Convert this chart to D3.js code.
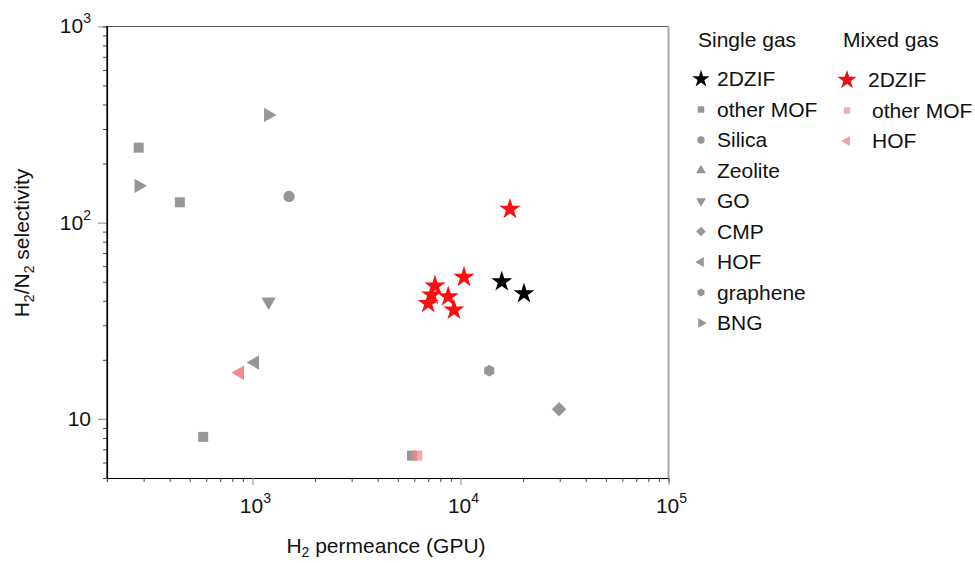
<!DOCTYPE html>
<html>
<head>
<meta charset="utf-8">
<script src="https://cdn.jsdelivr.net/npm/d3@7"></script>
<style>
  html, body { margin: 0; padding: 0; background: #fff; }
  svg { display: block; font-family: "Liberation Sans", Arial, sans-serif; }
</style>
</head>
<body>
<svg id="chart" width="975" height="563"></svg>
<script>
// ---------- data (H2 permeance in GPU, H2/N2 selectivity) ----------
const singleZIF      = [[15800, 50], [20200, 43.5]];
const singleMOF      = [[284, 241], [448, 127], [580, 8.1], [5850, 6.5]];
const singleSilica   = [[1500, 136]];
const singleZeolite  = [];
const singleGO       = [[1196, 39.6]];
const singleCMP      = [[29800, 11.2]];
const singleHOF      = [[1028, 19.4]];
const singleGraphene = [[13750, 17.6]];
const singleBNG      = [[284, 154], [1191, 354]];

const mixedZIF = [[17300, 117], [10400, 52.7], [7540, 47.6], [7270, 42.8],
                  [7000, 38.8], [8730, 42.0], [9310, 35.9]];
const mixedMOF = [[6200, 6.5]];
const mixedHOF = [[870, 17.2]];

const xTickMajors = [1e3, 1e4, 1e5];
const xTickLabels = [["10", "3"], ["10", "4"], ["10", "5"]];
const yTickMajors = [10, 100, 1000];
const yTickLabels = [["10", ""], ["10", "2"], ["10", "3"]];

const singleLegend = ["2DZIF", "other MOF", "Silica", "Zeolite", "GO", "CMP", "HOF", "graphene", "BNG"];
const mixedLegend  = ["2DZIF", "other MOF", "HOF"];

// ---------- setup ----------
const svg = d3.select("#chart");
const GRAY = "#969696", PINK = "#f4898d", RED = "#fb0f0f", BLACK = "#000";
const FS = 21;

const x = d3.scaleLog().domain([200, 1e5]).range([107, 668.5]);
const y = d3.scaleLog().domain([5, 1000]).range([478, 26.4]);

const hexagon = {
  draw(ctx, size) {
    const r = Math.sqrt(size / (1.5 * Math.sqrt(3)));
    for (let i = 0; i < 6; i++) {
      const a = Math.PI / 6 + i * Math.PI / 3;
      const px = r * Math.cos(a), py = r * Math.sin(a);
      if (i === 0) ctx.moveTo(px, py); else ctx.lineTo(px, py);
    }
    ctx.closePath();
  }
};

const markers = {
  star:    {type: d3.symbolStar, rot: 0},
  square:  {type: d3.symbolSquare, rot: 0},
  circle:  {type: d3.symbolCircle, rot: 0},
  triUp:   {type: d3.symbolTriangle, rot: 0},
  triDown: {type: d3.symbolTriangle, rot: 180},
  diamond: {type: d3.symbolSquare, rot: 45},
  triLeft: {type: d3.symbolTriangle, rot: -90},
  hex:     {type: hexagon, rot: 0},
  triRight:{type: d3.symbolTriangle, rot: 90}
};

const plotSeries = [
  {data: singleMOF,      m: "square",   color: GRAY, size: 100},
  {data: singleSilica,   m: "circle",   color: GRAY, size: 100},
  {data: singleZeolite,  m: "triUp",    color: GRAY, size: 90},
  {data: singleGO,       m: "triDown",  color: GRAY, size: 90},
  {data: singleCMP,      m: "diamond",  color: GRAY, size: 105},
  {data: singleHOF,      m: "triLeft",  color: GRAY, size: 90},
  {data: singleGraphene, m: "hex",      color: GRAY, size: 90},
  {data: singleBNG,      m: "triRight", color: GRAY, size: 90},
  {data: mixedMOF,       m: "square",   color: PINK, size: 100, opacity: 0.75},
  {data: mixedHOF,       m: "triLeft",  color: PINK, size: 90},
  {data: singleZIF,      m: "star",     color: BLACK, size: 135},
  {data: mixedZIF,       m: "star",     color: RED,  size: 140}
];

// ---------- axes frame ----------
const frame = svg.append("g");
frame.append("line").attr("x1", 107).attr("x2", 669).attr("y1", 26.5).attr("y2", 26.5)
  .attr("stroke", "#555").attr("stroke-width", 1.2);
frame.append("line").attr("x1", 668.5).attr("x2", 668.5).attr("y1", 26).attr("y2", 478)
  .attr("stroke", "#a8a8a8").attr("stroke-width", 2);

const xMinor = [];
[100, 1000, 10000].forEach(d => { for (let k = 2; k <= 9; k++) { const v = d * k; if (v >= 200 && v < 1e5) xMinor.push(v); } });
const gxm = svg.append("g").attr("transform", "translate(0,478)")
  .call(d3.axisBottom(x).tickValues(xMinor).tickSize(4).tickFormat(""));
gxm.select(".domain").attr("stroke", "#000").attr("stroke-width", 1.2);
gxm.selectAll(".tick line").attr("stroke", "#444");
const gxM = svg.append("g").attr("transform", "translate(0,478)")
  .call(d3.axisBottom(x).tickValues(xTickMajors).tickSize(7).tickFormat(""));
gxM.select(".domain").remove();
gxM.selectAll(".tick line").attr("stroke", "#999").attr("stroke-width", 1.2);

const yMinor = [];
[1, 10, 100].forEach(d => { for (let k = 2; k <= 9; k++) { const v = d * k; if (v >= 5 && v < 1000) yMinor.push(v); } });
const gym = svg.append("g").attr("transform", "translate(107,0)")
  .call(d3.axisLeft(y).tickValues(yMinor).tickSize(4).tickFormat(""));
gym.select(".domain").attr("stroke", "#000").attr("stroke-width", 1.2);
gym.selectAll(".tick line").attr("stroke", "#444");
const gyM = svg.append("g").attr("transform", "translate(107,0)")
  .call(d3.axisLeft(y).tickValues(yTickMajors).tickSize(9).tickFormat(""));
gyM.select(".domain").remove();
gyM.selectAll(".tick line").attr("stroke", "#999").attr("stroke-width", 1.2);
svg.append("line").attr("x1", 107).attr("x2", 107).attr("y1", 26).attr("y2", 478)
  .attr("stroke", "#000").attr("stroke-width", 1.2);

// tick labels
const supLabel = (g, base, sup) => {
  g.append("tspan").text(base);
  if (sup) g.append("tspan").attr("font-size", 14).attr("dy", -10).text(sup);
};
xTickMajors.forEach((v, i) => {
  const t = svg.append("text").attr("x", x(v) + 3).attr("y", 513)
    .attr("text-anchor", "middle").attr("font-size", FS).attr("fill", "#111");
  supLabel(t, xTickLabels[i][0], xTickLabels[i][1]);
});
yTickMajors.forEach((v, i) => {
  const t = svg.append("text").attr("x", 91).attr("y", y(v) + 7)
    .attr("text-anchor", "end").attr("font-size", FS).attr("fill", "#111");
  supLabel(t, yTickLabels[i][0], yTickLabels[i][1]);
});

// axis titles
const xt = svg.append("text").attr("x", 386).attr("y", 553).attr("text-anchor", "middle")
  .attr("font-size", FS).attr("fill", "#111");
xt.append("tspan").text("H");
xt.append("tspan").attr("font-size", 14).attr("dy", 4).text("2");
xt.append("tspan").attr("dy", -4).text(" permeance (GPU)");

const yt = svg.append("text").attr("transform", "translate(29,243) rotate(-90)")
  .attr("text-anchor", "middle").attr("font-size", FS).attr("fill", "#111");
yt.append("tspan").text("H");
yt.append("tspan").attr("font-size", 14).attr("dy", 5).text("2");
yt.append("tspan").attr("dy", -5).text("/N");
yt.append("tspan").attr("font-size", 14).attr("dy", 5).text("2");
yt.append("tspan").attr("dy", -5).text(" selectivity");

// ---------- points ----------
function drawMarker(g, cx, cy, mk, size, color, opacity) {
  const spec = markers[mk];
  g.append("path")
    .attr("d", d3.symbol().type(spec.type).size(size)())
    .attr("transform", `translate(${cx},${cy}) rotate(${spec.rot})`)
    .attr("fill", color)
    .attr("fill-opacity", opacity == null ? 1 : opacity);
}
const pts = svg.append("g");
plotSeries.forEach(s => {
  s.data.forEach(d => drawMarker(pts, x(d[0]), y(d[1]), s.m, s.size, s.color, s.opacity));
});

// ---------- legend ----------
const lg = svg.append("g");
lg.append("text").attr("x", 698).attr("y", 47).attr("font-size", FS).attr("fill", "#111").text("Single gas");
lg.append("text").attr("x", 843).attr("y", 47).attr("font-size", FS).attr("fill", "#111").text("Mixed gas");
const singleMk = ["star", "square", "circle", "triUp", "triDown", "diamond", "triLeft", "hex", "triRight"];
singleLegend.forEach((name, i) => {
  const cy = 79 + i * 30.5;
  const isStar = i === 0;
  drawMarker(lg, 701, cy, singleMk[i], isStar ? 95 : (singleMk[i] === "diamond" ? 45 : 42), isStar ? BLACK : GRAY);
  lg.append("text").attr("x", 717).attr("y", cy + 7).attr("font-size", FS)
    .attr("fill", "#111").text(name);
});
const mixedMk = ["star", "square", "triLeft"];
const mixedCol = ["#e3101c", "#f4aeb0", "#f4a0a3"];
mixedLegend.forEach((name, i) => {
  const cy = 80 + i * 30.5;
  const isStar = i === 0;
  drawMarker(lg, 847, cy, mixedMk[i], isStar ? 115 : 42, mixedCol[i]);
  lg.append("text").attr("x", isStar ? 868 : 872).attr("y", cy + 7).attr("font-size", FS)
    .attr("fill", "#111").text(name);
});
</script>
</body>
</html>
